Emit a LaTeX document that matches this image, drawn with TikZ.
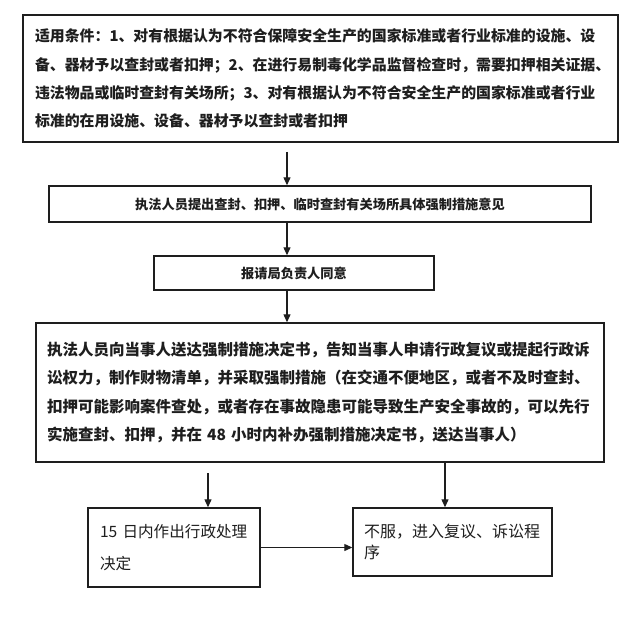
\documentclass[tikz,border=0pt]{standalone}
\usepackage{fontspec}
\setmainfont{Noto Sans CJK SC}
\usetikzlibrary{arrows.meta}
\definecolor{ink}{RGB}{30,30,30}
\begin{document}
\begin{tikzpicture}[x=1pt,y=-1pt,
  box/.style={draw=ink,line width=1.4pt,inner xsep=12pt,inner ysep=0pt,text=ink},
  arr/.style={draw=ink,line width=1.2pt,-{Triangle[length=8pt,width=7pt]}}]
\useasboundingbox[fill=white] (0,0) rectangle (637,617);

\node[box,align=left,minimum width=595pt,minimum height=127pt,text width=571pt,
  font=\bfseries\fontsize{14.9}{28.3}\selectfont] (b1) at (320.5,78.5)
  {适用条件：1、对有根据认为不符合保障安全生产的国家标准或者行业标准的设施、设\\
   备、器材予以查封或者扣押；2、在进行易制毒化学品监督检查时，需要扣押相关证据、\\
   违法物品或临时查封有关场所；3、对有根据认为不符合安全生产的国家标准或者行业\\
   标准的在用设施、设备、器材予以查封或者扣押};

\node[box,align=center,minimum width=542pt,minimum height=36pt,
  font=\bfseries\fontsize{13.2}{16}\selectfont] (b2) at (320,204)
  {执法人员提出查封、扣押、临时查封有关场所具体强制措施意见};

\node[box,align=center,minimum width=280pt,minimum height=34pt,
  font=\bfseries\fontsize{13.2}{16}\selectfont] (b3) at (294,273)
  {报请局负责人同意};

\node[box,align=left,inner xsep=11pt,minimum width=568pt,minimum height=139pt,text width=546pt,
  font=\bfseries\fontsize{15.5}{28.5}\selectfont] (b4) at (320,392.5)
  {执法人员向当事人送达强制措施决定书，告知当事人申请行政复议或提起行政诉\\
   讼权力，制作财物清单，并采取强制措施（在交通不便地区，或者不及时查封、\\
   扣押可能影响案件查处，或者存在事故隐患可能导致生产安全事故的，可以先行\\
   实施查封、扣押，并在 48 小时内补办强制措施决定书，送达当事人）};

\node[box,align=left,minimum width=172pt,minimum height=79pt,text width=148pt,
  font=\fontsize{15.6}{32}\selectfont] (b5) at (174,547.5)
  {15~日内作出行政处理\\决定};

\node[box,align=left,inner xsep=11pt,minimum width=199pt,minimum height=68pt,text width=177pt,
  font=\fontsize{16}{21}\selectfont] (b6) at (452.5,542)
  {不服，进入复议、诉讼程\\序};

\coordinate (s1) at (287,152);
\coordinate (s4) at (208,473);
\coordinate (c6) at (445,0);
\draw[arr] (s1) -- (s1 |- b2.north);
\draw[arr] (b2.south -| s1) -- (b3.north -| s1);
\draw[arr] (b3.south -| s1) -- (b4.north -| s1);
\draw[arr] (s4) -- (s4 |- b5.north);
\draw[arr] (b4.south -| c6) -- (b6.north -| c6);
\draw[arr] (b5.east) -- (b6.west |- b5.east);
\end{tikzpicture}
\end{document}
